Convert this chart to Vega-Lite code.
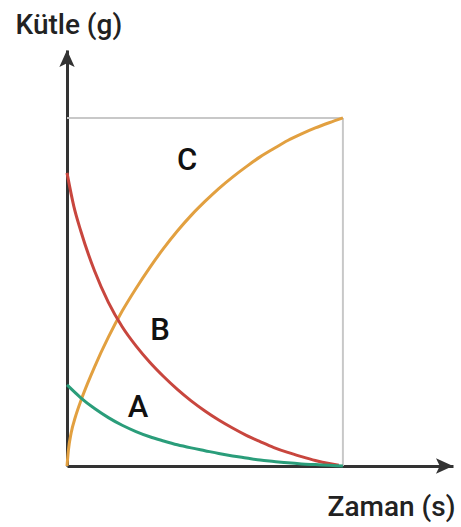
{
  "$schema": "https://vega.github.io/schema/vega-lite/v6.json",
  "width": 386,
  "height": 416,
  "autosize": "none",
  "padding": {"left": 67, "top": 50, "right": 8, "bottom": 61},
  "background": "white",
  "config": {"view": {"stroke": null}},
  "datasets": {
    "curves": [
      {"series": "C", "t": 0, "m": 0},
      {"series": "C", "t": 0.05, "m": 0.45},
      {"series": "C", "t": 0.15, "m": 0.95},
      {"series": "C", "t": 0.3, "m": 1.4},
      {"series": "C", "t": 0.5, "m": 1.87},
      {"series": "C", "t": 0.75, "m": 2.38},
      {"series": "C", "t": 1.0, "m": 2.85},
      {"series": "C", "t": 1.5, "m": 3.7},
      {"series": "C", "t": 2.0, "m": 4.45},
      {"series": "C", "t": 2.5, "m": 5.1},
      {"series": "C", "t": 3.0, "m": 5.7},
      {"series": "C", "t": 3.5, "m": 6.25},
      {"series": "C", "t": 4.0, "m": 6.75},
      {"series": "C", "t": 4.5, "m": 7.2},
      {"series": "C", "t": 5.0, "m": 7.6},
      {"series": "C", "t": 5.5, "m": 7.97},
      {"series": "C", "t": 6.0, "m": 8.3},
      {"series": "C", "t": 6.5, "m": 8.6},
      {"series": "C", "t": 7.0, "m": 8.88},
      {"series": "C", "t": 7.5, "m": 9.12},
      {"series": "C", "t": 8.0, "m": 9.35},
      {"series": "C", "t": 8.5, "m": 9.54},
      {"series": "C", "t": 9.0, "m": 9.71},
      {"series": "C", "t": 9.5, "m": 9.86},
      {"series": "C", "t": 10, "m": 10},
      {"series": "B", "t": 0, "m": 8.42},
      {"series": "B", "t": 0.25, "m": 7.45},
      {"series": "B", "t": 0.5, "m": 6.75},
      {"series": "B", "t": 1.0, "m": 5.6},
      {"series": "B", "t": 1.5, "m": 4.7},
      {"series": "B", "t": 2.0, "m": 4.0},
      {"series": "B", "t": 2.5, "m": 3.45},
      {"series": "B", "t": 3.0, "m": 2.98},
      {"series": "B", "t": 3.5, "m": 2.57},
      {"series": "B", "t": 4.0, "m": 2.2},
      {"series": "B", "t": 4.5, "m": 1.87},
      {"series": "B", "t": 5.0, "m": 1.58},
      {"series": "B", "t": 5.5, "m": 1.32},
      {"series": "B", "t": 6.0, "m": 1.09},
      {"series": "B", "t": 6.5, "m": 0.88},
      {"series": "B", "t": 7.0, "m": 0.7},
      {"series": "B", "t": 7.5, "m": 0.53},
      {"series": "B", "t": 8.0, "m": 0.39},
      {"series": "B", "t": 8.5, "m": 0.27},
      {"series": "B", "t": 9.0, "m": 0.16},
      {"series": "B", "t": 9.5, "m": 0.07},
      {"series": "B", "t": 9.85, "m": 0.02},
      {"series": "A", "t": 0, "m": 2.33},
      {"series": "A", "t": 0.5, "m": 1.96},
      {"series": "A", "t": 1.0, "m": 1.65},
      {"series": "A", "t": 1.5, "m": 1.39},
      {"series": "A", "t": 2.0, "m": 1.17},
      {"series": "A", "t": 2.5, "m": 0.99},
      {"series": "A", "t": 3.0, "m": 0.84},
      {"series": "A", "t": 3.5, "m": 0.72},
      {"series": "A", "t": 4.0, "m": 0.61},
      {"series": "A", "t": 4.5, "m": 0.52},
      {"series": "A", "t": 5.0, "m": 0.44},
      {"series": "A", "t": 5.5, "m": 0.36},
      {"series": "A", "t": 6.0, "m": 0.29},
      {"series": "A", "t": 6.5, "m": 0.23},
      {"series": "A", "t": 7.0, "m": 0.17},
      {"series": "A", "t": 7.5, "m": 0.13},
      {"series": "A", "t": 8.0, "m": 0.09},
      {"series": "A", "t": 8.5, "m": 0.06},
      {"series": "A", "t": 9.0, "m": 0.04},
      {"series": "A", "t": 9.5, "m": 0.02},
      {"series": "A", "t": 10, "m": 0}
    ],
    "labels": [
      {"series": "C", "t": 4.35, "m": 8.76},
      {"series": "B", "t": 3.37, "m": 3.88},
      {"series": "A", "t": 2.57, "m": 1.67}
    ],
    "box": [
      {"t": 0, "m": 10, "t2": 10, "m2": 10},
      {"t": 10, "m": 0, "t2": 10, "m2": 10}
    ]
  },
  "layer": [
    {
      "data": {"name": "box"},
      "mark": {"type": "rule", "color": "#c8c8c8", "strokeWidth": 2},
      "encoding": {
        "x": {"field": "t", "type": "quantitative", "scale": {"domain": [0, 13.99], "nice": false},
              "axis": {"title": "Zaman (s)", "ticks": false, "labels": false, "grid": false,
                       "domainColor": "#333333", "domainWidth": 3,
                       "titleFont": "Roboto", "titleFontSize": 28, "titleFontWeight": 500, "titleColor": "#222222",
                       "titleAnchor": "end", "titleAlign": "right", "titleBaseline": "alphabetic",
                       "titleX": 388, "titleY": 49}},
        "y": {"field": "m", "type": "quantitative", "scale": {"domain": [0, 11.95], "nice": false},
              "axis": {"title": "Kütle (g)", "ticks": false, "labels": false, "grid": false,
                       "domainColor": "#333333", "domainWidth": 3,
                       "titleFont": "Roboto", "titleFontSize": 28, "titleFontWeight": 500, "titleColor": "#222222",
                       "titleAngle": 0, "titleAlign": "left", "titleBaseline": "alphabetic",
                       "titleX": -52, "titleY": -17}},
        "x2": {"field": "t2"},
        "y2": {"field": "m2"}
      }
    },
    {
      "data": {"name": "curves"},
      "mark": {"type": "line", "strokeWidth": 3, "interpolate": "monotone"},
      "encoding": {
        "x": {"field": "t", "type": "quantitative"},
        "y": {"field": "m", "type": "quantitative"},
        "color": {"field": "series", "type": "nominal",
                  "scale": {"domain": ["A", "B", "C"], "range": ["#2a9d7a", "#c8463e", "#e2a040"]},
                  "legend": null},
        "order": {"field": "t", "type": "quantitative"}
      }
    },
    {
      "data": {"name": "labels"},
      "mark": {"type": "text", "font": "Roboto", "fontSize": 31, "fontWeight": 500, "color": "#111111", "align": "center", "baseline": "middle"},
      "encoding": {
        "x": {"field": "t", "type": "quantitative"},
        "y": {"field": "m", "type": "quantitative"},
        "text": {"field": "series"}
      }
    },
    {
      "data": {"values": [{"t": 0, "m": 11.95}]},
      "mark": {"type": "point", "filled": true, "color": "#333333", "opacity": 1, "size": 1156,
               "shape": "M0,0 L0.45,1 L0,0.78 L-0.45,1 Z"},
      "encoding": {
        "x": {"field": "t", "type": "quantitative"},
        "y": {"field": "m", "type": "quantitative"}
      }
    },
    {
      "data": {"values": [{"t": 13.99, "m": 0}]},
      "mark": {"type": "point", "filled": true, "color": "#333333", "opacity": 1, "size": 1156,
               "shape": "M0,0 L-1,0.45 L-0.78,0 L-1,-0.45 Z"},
      "encoding": {
        "x": {"field": "t", "type": "quantitative"},
        "y": {"field": "m", "type": "quantitative"}
      }
    }
  ]
}
